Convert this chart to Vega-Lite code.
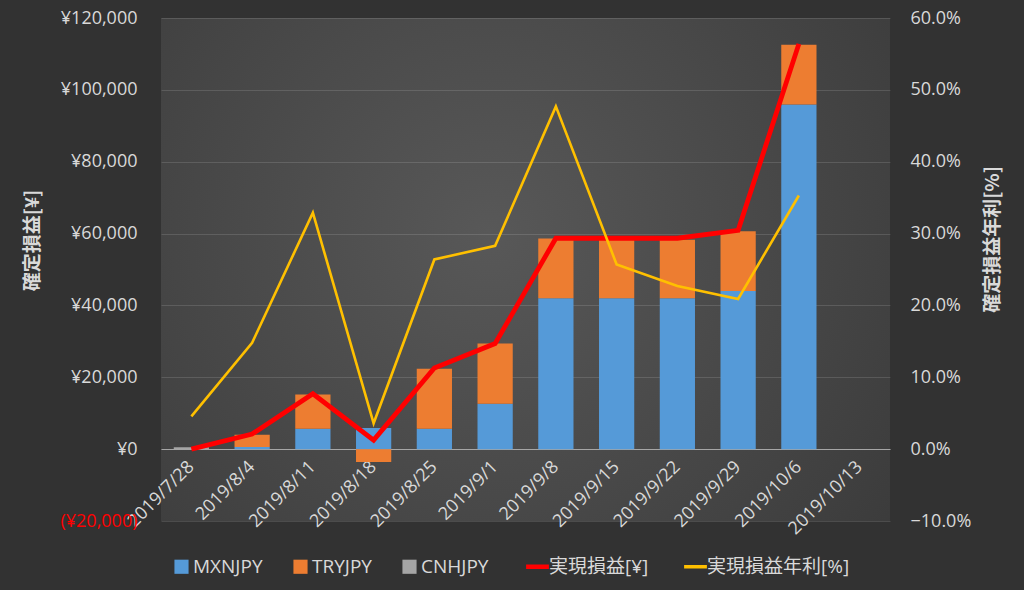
{
  "$schema": "https://vega.github.io/schema/vega-lite/v6.json",
  "width": 729,
  "height": 503,
  "autosize": "none",
  "padding": {"left": 161, "top": 18, "right": 134, "bottom": 69},
  "background": "#323232",
  "datasets": {
    "bars": [
      {"date": "2019/7/28", "series": "CNHJPY", "value": 500},
      {"date": "2019/8/4", "series": "MXNJPY", "value": 600},
      {"date": "2019/8/4", "series": "TRYJPY", "value": 3400},
      {"date": "2019/8/11", "series": "MXNJPY", "value": 5700},
      {"date": "2019/8/11", "series": "TRYJPY", "value": 9500},
      {"date": "2019/8/18", "series": "MXNJPY", "value": 5900},
      {"date": "2019/8/18", "series": "TRYJPY", "value": -3600},
      {"date": "2019/8/25", "series": "MXNJPY", "value": 5700},
      {"date": "2019/8/25", "series": "TRYJPY", "value": 16700},
      {"date": "2019/9/1", "series": "MXNJPY", "value": 12650},
      {"date": "2019/9/1", "series": "TRYJPY", "value": 16750},
      {"date": "2019/9/8", "series": "MXNJPY", "value": 42000},
      {"date": "2019/9/8", "series": "TRYJPY", "value": 16600},
      {"date": "2019/9/15", "series": "MXNJPY", "value": 42000},
      {"date": "2019/9/15", "series": "TRYJPY", "value": 16300},
      {"date": "2019/9/22", "series": "MXNJPY", "value": 42000},
      {"date": "2019/9/22", "series": "TRYJPY", "value": 16300},
      {"date": "2019/9/29", "series": "MXNJPY", "value": 44000},
      {"date": "2019/9/29", "series": "TRYJPY", "value": 16650},
      {"date": "2019/10/6", "series": "MXNJPY", "value": 95900},
      {"date": "2019/10/6", "series": "TRYJPY", "value": 16650}
    ],
    "lines": [
      {"date": "2019/7/28", "pnl": 0, "rate": 0.0456},
      {"date": "2019/8/4", "pnl": 4200, "rate": 0.148},
      {"date": "2019/8/11", "pnl": 15400, "rate": 0.329},
      {"date": "2019/8/18", "pnl": 2500, "rate": 0.036},
      {"date": "2019/8/25", "pnl": 22600, "rate": 0.264},
      {"date": "2019/9/1", "pnl": 29400, "rate": 0.283},
      {"date": "2019/9/8", "pnl": 58700, "rate": 0.477},
      {"date": "2019/9/15", "pnl": 58700, "rate": 0.257},
      {"date": "2019/9/22", "pnl": 58700, "rate": 0.227},
      {"date": "2019/9/29", "pnl": 60900, "rate": 0.209},
      {"date": "2019/10/6", "pnl": 112800, "rate": 0.353}
    ]
  },
  "config": {
    "font": "Open Sans, Noto Sans CJK JP, sans-serif",
    "view": {
      "stroke": null,
      "fill": {
        "gradient": "radial",
        "x1": 0.45, "y1": 0.45, "r1": 0,
        "x2": 0.45, "y2": 0.45, "r2": 0.72,
        "stops": [
          {"offset": 0, "color": "#585858"},
          {"offset": 1, "color": "#3a3a3a"}
        ]
      }
    },
    "axis": {
      "labelColor": "#d9d9d9",
      "titleColor": "#d9d9d9",
      "labelFont": "Open Sans, Noto Sans CJK JP, sans-serif",
      "titleFont": "Noto Sans CJK JP, sans-serif",
      "labelOverlap": false
    }
  },
  "layer": [
    {
      "data": {"name": "bars"},
      "mark": {"type": "bar"},
      "encoding": {
        "x": {
          "field": "date", "type": "ordinal",
          "scale": {
            "domain": ["2019/7/28", "2019/8/4", "2019/8/11", "2019/8/18", "2019/8/25", "2019/9/1", "2019/9/8", "2019/9/15", "2019/9/22", "2019/9/29", "2019/10/6", "2019/10/13"],
            "paddingInner": 0.42, "paddingOuter": 0.21
          },
          "axis": {
            "title": null,
            "offset": -72,
            "labelAngle": -45,
            "labelAlign": "right",
            "labelBaseline": "middle",
            "labelFontSize": 18,
            "labelPadding": 15,
            "labelDx": 8,
            "labelOverlap": false,
            "ticks": false,
            "domainColor": "#a6a6a6",
            "domainWidth": 1.2,
            "grid": false
          }
        },
        "y": {
          "field": "value", "type": "quantitative",
          "stack": "zero",
          "scale": {"domain": [-20000, 120000], "nice": false},
          "axis": {
            "title": "確定損益[¥]",
            "values": [-20000, 0, 20000, 40000, 60000, 80000, 100000, 120000],
            "labelExpr": "datum.value < 0 ? '(¥' + format(-datum.value, ',') + ')' : '¥' + format(datum.value, ',')",
            "labelColor": {"condition": {"test": "datum.value < 0", "value": "#ff0000"}, "value": "#d9d9d9"},
            "labelFontSize": 18,
            "labelPadding": 24,
            "labelOverlap": false,
            "ticks": false,
            "domain": false,
            "grid": true,
            "gridColor": "#ffffff",
            "gridOpacity": 0.13,
            "gridWidth": 1,
            "titleAngle": 270,
            "titleX": -129,
            "titleY": 222,
            "titleAlign": "center",
            "titleBaseline": "middle",
            "titleFontSize": 19,
            "titleFontWeight": "bold"
          }
        },
        "color": {
          "field": "series", "type": "nominal",
          "scale": {
            "domain": ["MXNJPY", "TRYJPY", "CNHJPY", "実現損益[¥]", "実現損益年利[%]"],
            "range": ["#559ad8", "#ed7d31", "#a5a5a5", "#ff0000", "#ffc000"]
          },
          "legend": {
            "orient": "bottom",
            "direction": "horizontal",
            "title": null,
            "labelColor": "#d9d9d9",
            "labelFontSize": 19,
            "labelFont": "Open Sans, Noto Sans CJK JP, sans-serif",
            "columnPadding": 28,
            "symbolOffset": 0,
            "labelOffset": 2,
            "padding": 11,
            "offset": 8,
            "encode": {
              "symbols": {
                "update": {
                  "shape": {"signal": "(datum.value == '実現損益[¥]' || datum.value == '実現損益年利[%]') ? 'stroke' : 'square'"},
                  "size": {"signal": "(datum.value == '実現損益[¥]' || datum.value == '実現損益年利[%]') ? 520 : 200"},
                  "fill": {"scale": "color", "field": "value"},
                  "stroke": {"scale": "color", "field": "value"},
                  "strokeWidth": {"signal": "datum.value == '実現損益[¥]' ? 4.5 : (datum.value == '実現損益年利[%]' ? 3.5 : 0)"},
                  "opacity": {"value": 1}
                }
              }
            }
          }
        },
        "order": {"field": "series", "sort": "ascending"}
      }
    },
    {
      "data": {"name": "lines"},
      "mark": {"type": "line", "strokeWidth": 4.8, "strokeJoin": "miter"},
      "encoding": {
        "x": {"field": "date", "type": "ordinal"},
        "y": {"field": "pnl", "type": "quantitative", "scale": {"domain": [-20000, 120000], "nice": false}, "axis": null},
        "color": {"datum": "実現損益[¥]"}
      }
    },
    {
      "data": {"name": "lines"},
      "mark": {"type": "line", "strokeWidth": 2.6},
      "encoding": {
        "x": {"field": "date", "type": "ordinal"},
        "y": {
          "field": "rate", "type": "quantitative",
          "scale": {"domain": [-0.1, 0.6], "nice": false},
          "axis": {
            "orient": "right",
            "title": "確定損益年利[%]",
            "format": ".1%",
            "values": [-0.1, 0, 0.1, 0.2, 0.3, 0.4, 0.5, 0.6],
            "labelFontSize": 18,
            "labelPadding": 20,
            "labelOverlap": false,
            "ticks": false,
            "domain": false,
            "grid": false,
            "titleAngle": 270,
            "titleX": 102,
            "titleY": 221,
            "titleAlign": "center",
            "titleBaseline": "middle",
            "titleFontSize": 19,
            "titleFontWeight": "bold"
          }
        },
        "color": {"datum": "実現損益年利[%]"}
      }
    }
  ],
  "resolve": {"scale": {"y": "independent"}}
}
